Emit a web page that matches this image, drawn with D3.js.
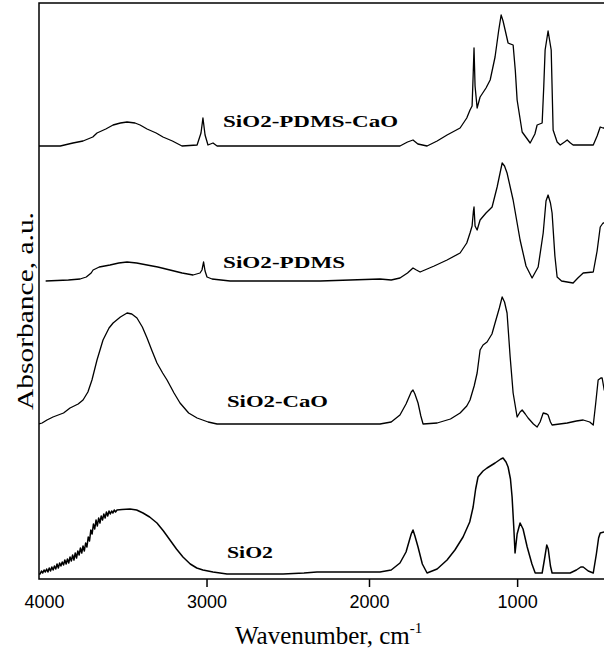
<!DOCTYPE html>
<html>
<head>
<meta charset="utf-8">
<script src="https://cdn.jsdelivr.net/npm/d3@7"></script>
<style>
  body { margin: 0; background: #fff; }
  svg { display: block; }
</style>
</head>
<body>
<div id="chart"></div>
<script>

// series names and their vertical offsets (a.u.)
var seriesNames = ["SiO2", "SiO2-CaO", "SiO2-PDMS", "SiO2-PDMS-CaO"];
var offsets = [0.05, 1.55, 2.98, 4.33];

// wavenumber ticks
var tickValues = [4000, 3000, 2000, 1000];

// spectra: [wavenumber, absorbance above own baseline]
// SiO2 is noisy on the high wavenumber side
var sio2 = [[4031,0.00],[4024,0.00],[4016,0.03],[4008,0.01],[4000,0.04],[3992,0.02],[3984,0.05],[3976,0.02],
  [3968,0.06],[3960,0.03],[3952,0.07],[3944,0.04],[3936,0.08],[3928,0.05],[3920,0.10],[3912,0.06],[3904,0.11],
  [3896,0.08],[3888,0.12],[3880,0.09],[3872,0.14],[3864,0.10],[3856,0.15],[3848,0.11],[3840,0.17],[3832,0.13],
  [3824,0.19],[3816,0.14],[3808,0.21],[3800,0.16],[3792,0.23],[3784,0.19],[3776,0.26],[3768,0.21],[3760,0.28],
  [3752,0.23],[3744,0.31],[3736,0.27],[3728,0.37],[3720,0.33],[3712,0.44],[3704,0.40],[3696,0.50],[3688,0.45],
  [3680,0.54],[3672,0.48],[3664,0.56],[3656,0.51],[3648,0.58],[3640,0.54],[3632,0.60],[3624,0.56],[3616,0.62],
  [3608,0.58],[3600,0.63],[3592,0.60],[3584,0.63],[3576,0.61],[3568,0.64],[3560,0.62],[3551,0.64],[3520,0.645],
  [3471,0.65],[3430,0.64],[3391,0.61],[3350,0.57],[3305,0.51],[3265,0.43],[3225,0.34],[3185,0.25],[3145,0.17],
  [3100,0.10],[3060,0.06],[3022,0.04],[2960,0.02],[2874,0.00],[2529,0.00],[2400,0.01],[2320,0.02],[2100,0.02],
  [1926,0.02],[1850,0.04],[1791,0.11],[1750,0.22],[1715,0.40],[1703,0.44],[1690,0.38],[1669,0.27],[1640,0.10],
  [1608,0.01],[1540,0.05],[1473,0.14],[1420,0.24],[1365,0.37],[1320,0.52],[1297,0.67],[1280,0.85],[1264,0.97],
  [1230,1.03],[1203,1.06],[1149,1.11],[1110,1.15],[1095,1.16],[1075,1.12],[1061,1.07],[1045,0.95],[1034,0.77],
  [1022,0.45],[1014,0.21],[1000,0.40],[980,0.51],[960,0.45],[932,0.27],[900,0.10],[878,0.01],[831,0.01],
  [815,0.15],[800,0.29],[790,0.25],[775,0.08],[764,0.01],[642,0.01],[600,0.04],[570,0.07],[554,0.07],
  [520,0.03],[486,0.01],[465,0.20],[450,0.36],[439,0.41],[412,0.42],[400,0.42]];

var sio2Cao = [[4031,0.00],[4012,0.01],[3982,0.04],[3945,0.07],[3880,0.11],[3840,0.16],[3790,0.20],[3760,0.24],
  [3730,0.32],[3705,0.44],[3674,0.64],[3637,0.84],[3600,0.96],[3575,1.01],[3530,1.07],[3489,1.11],[3460,1.10],
  [3428,1.06],[3395,0.97],[3366,0.86],[3335,0.73],[3305,0.61],[3270,0.51],[3243,0.44],[3200,0.31],[3163,0.21],
  [3110,0.11],[3058,0.06],[2990,0.02],[2935,0.00],[2443,0.00],[2200,0.00],[1926,0.00],[1850,0.02],[1791,0.09],
  [1750,0.20],[1715,0.32],[1703,0.34],[1690,0.30],[1669,0.21],[1650,0.08],[1635,0.00],[1540,0.01],[1450,0.05],
  [1385,0.11],[1340,0.18],[1318,0.24],[1290,0.38],[1270,0.51],[1250,0.74],[1230,0.79],[1203,0.82],[1170,0.90],
  [1149,1.01],[1120,1.16],[1101,1.27],[1085,1.22],[1068,1.11],[1047,0.67],[1027,0.31],[1000,0.07],[980,0.12],
  [966,0.14],[945,0.10],[926,0.06],[890,0.00],[865,-0.03],[845,0.02],[824,0.11],[800,0.10],[791,0.09],
  [775,0.02],[764,-0.01],[662,0.01],[600,0.03],[554,0.04],[510,0.02],[486,-0.01],[470,0.20],[453,0.44],
  [435,0.46],[426,0.46],[412,0.34],[400,0.30]];

var sio2Pdms = [[3990,0.00],[3850,0.01],[3778,0.02],[3740,0.04],[3710,0.08],[3698,0.11],[3660,0.14],[3594,0.16],
  [3540,0.18],[3489,0.19],[3430,0.18],[3366,0.16],[3300,0.14],[3225,0.11],[3150,0.08],[3083,0.06],[3040,0.08],
  [3028,0.11],[3018,0.19],[3009,0.10],[2997,0.04],[2966,0.02],[2855,0.00],[2300,0.00],[1926,0.02],[1850,0.01],
  [1791,0.03],[1740,0.08],[1703,0.13],[1680,0.11],[1655,0.09],[1560,0.15],[1473,0.21],[1385,0.28],[1340,0.38],
  [1318,0.48],[1304,0.55],[1295,0.70],[1291,0.74],[1284,0.55],[1270,0.51],[1250,0.61],[1210,0.68],[1169,0.74],
  [1135,0.94],[1101,1.18],[1085,1.15],[1068,1.08],[1027,0.81],[980,0.41],[940,0.15],[899,0.03],[858,0.14],
  [824,0.48],[805,0.80],[791,0.86],[775,0.78],[764,0.68],[745,0.25],[730,0.04],[700,0.00],[662,-0.01],
  [622,-0.02],[590,0.03],[554,0.08],[486,0.09],[460,0.30],[439,0.54],[420,0.58],[412,0.58],[400,0.58]];

var sio2PdmsCao = [[4031,0.00],[3900,0.00],[3822,0.03],[3760,0.05],[3700,0.09],[3674,0.13],[3620,0.17],[3575,0.21],
  [3530,0.23],[3489,0.24],[3440,0.23],[3409,0.21],[3366,0.17],[3310,0.13],[3268,0.09],[3210,0.05],[3151,0.00],
  [3058,0.01],[3034,0.13],[3022,0.28],[3009,0.11],[2991,0.01],[2960,0.03],[2935,0.00],[2500,0.00],[1926,0.00],
  [1791,0.00],[1740,0.04],[1703,0.06],[1670,0.02],[1608,0.00],[1540,0.05],[1473,0.11],[1385,0.18],[1340,0.28],
  [1318,0.36],[1304,0.40],[1297,0.70],[1291,0.98],[1284,0.60],[1270,0.38],[1250,0.49],[1210,0.58],[1182,0.66],
  [1149,0.89],[1125,1.15],[1108,1.31],[1095,1.25],[1081,1.16],[1061,1.03],[1027,1.01],[1012,0.75],[1000,0.46],
  [966,0.14],[912,0.03],[880,0.12],[865,0.21],[831,0.23],[820,0.60],[811,0.96],[791,1.15],[770,0.96],
  [757,0.16],[730,0.04],[709,0.01],[680,0.04],[662,0.06],[640,0.03],[622,0.01],[486,0.01],[460,0.10],
  [439,0.19],[420,0.18],[412,0.18],[400,0.17]];

var spectra = [sio2, sio2Cao, sio2Pdms, sio2PdmsCao];

var width = 604, height = 651;
var plotLeft = 39, plotRight = 604, plotTop = 3, plotBottom = 579;

var svg = d3.select("#chart").append("svg")
    .attr("width", width)
    .attr("height", height)
    .style("background", "#fff");

// x axis is compressed below 2000 cm-1, so use a polylinear scale
var x = d3.scaleLinear()
    .domain([4031, 2000, 400])
    .range([plotLeft, 369, 606]);

var y = d3.scaleLinear()
    .domain([0, 5.76])
    .range([plotBottom, plotTop]);

svg.append("clipPath").attr("id", "plotclip")
  .append("rect")
    .attr("x", plotLeft).attr("y", plotTop)
    .attr("width", plotRight - plotLeft).attr("height", plotBottom - plotTop);

var line = d3.line()
    .x(function(d) { return x(d[0]); });

var plot = svg.append("g").attr("clip-path", "url(#plotclip)");

spectra.forEach(function(s, i) {
  line.y(function(d) { return y(d[1] + offsets[i]); });
  plot.append("path")
      .datum(s)
      .attr("fill", "none")
      .attr("stroke", "#000")
      .attr("stroke-width", i == 0 ? 1.5 : 1.3)
      .attr("stroke-linejoin", "round")
      .attr("d", line);
});

// frame: left, top, bottom
svg.append("path")
    .attr("d", "M" + plotRight + "," + plotTop + "H" + plotLeft + "V" + plotBottom + "H" + plotRight)
    .attr("fill", "none")
    .attr("stroke", "#000")
    .attr("stroke-width", 1.5);

// bottom ticks
var xAxis = d3.axisBottom(x)
    .tickValues(tickValues)
    .tickSize(8)
    .tickSizeOuter(0)
    .tickPadding(8)
    .tickFormat(d3.format("d"));

var gx = svg.append("g")
    .attr("transform", "translate(0," + plotBottom + ")")
    .call(xAxis);
gx.select(".domain").remove();
gx.selectAll(".tick line").attr("stroke-width", 1.5)
    .filter(function(d) { return d == 4000; }).remove();
gx.selectAll(".tick text")
    .attr("font-family", "'Liberation Sans', Arial, sans-serif")
    .attr("font-size", 18)
    .attr("fill", "#000");

// series labels
var labelPos = [[2874, 0.16], [2874, 0.17], [2898, 0.13], [2898, 0.19]];
var labelWidths = [46, 101, 122, 175];
seriesNames.forEach(function(name, i) {
  svg.append("text")
      .attr("x", x(labelPos[i][0]))
      .attr("y", y(offsets[i] + labelPos[i][1]))
      .attr("font-family", "'Liberation Serif', 'Times New Roman', serif")
      .attr("font-weight", "bold")
      .attr("font-size", 17)
      .attr("textLength", labelWidths[i])
      .attr("lengthAdjust", "spacingAndGlyphs")
      .text(name);
});

// axis titles
var xt = svg.append("text")
    .attr("x", 235)
    .attr("y", 644)
    .attr("font-family", "'Liberation Serif', 'Times New Roman', serif")
    .attr("font-size", 25);
xt.append("tspan").text("Wavenumber, cm");
xt.append("tspan").attr("font-size", 15).attr("dy", -11).text("-1");

svg.append("text")
    .attr("transform", "translate(33,311) rotate(-90)")
    .attr("text-anchor", "middle")
    .attr("font-family", "'Liberation Serif', 'Times New Roman', serif")
    .attr("font-size", 23)
    .attr("textLength", 198)
    .attr("lengthAdjust", "spacingAndGlyphs")
    .text("Absorbance, a.u.");

</script>
</body>
</html>
